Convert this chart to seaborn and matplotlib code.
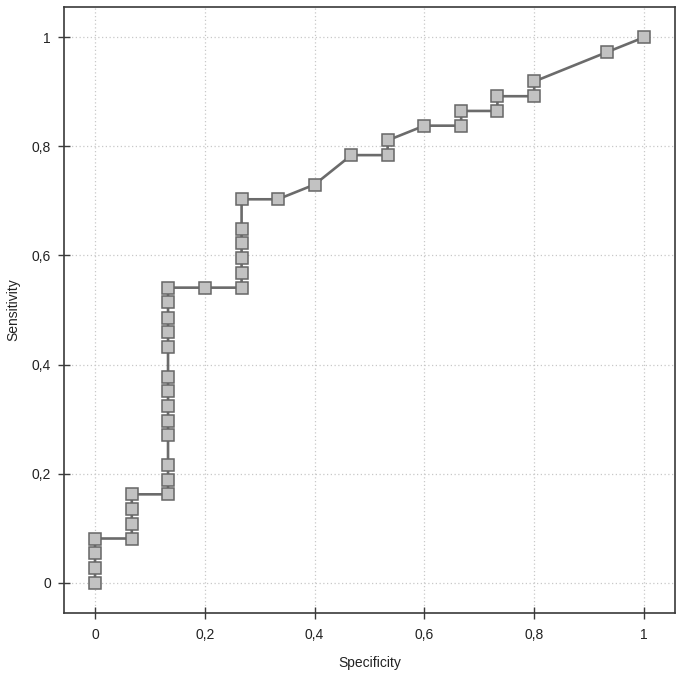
import matplotlib
matplotlib.use("Agg")
import matplotlib.pyplot as plt
from matplotlib.ticker import FuncFormatter, FixedLocator
import seaborn as sns
import pandas as pd

# ROC-curve points (in plotting order)
specificity = [0.0, 0.0, 0.0, 0.0,
               0.067, 0.067, 0.067, 0.067,
               0.133, 0.133, 0.133, 0.133, 0.133, 0.133, 0.133, 0.133,
               0.133, 0.133, 0.133, 0.133, 0.133,
               0.2,
               0.267, 0.267, 0.267, 0.267, 0.267, 0.267,
               0.333, 0.4, 0.467,
               0.533, 0.533, 0.6,
               0.667, 0.667, 0.733, 0.733, 0.8, 0.8,
               0.933, 1.0]
sensitivity = [0.0, 0.027, 0.054, 0.081,
               0.081, 0.108, 0.135, 0.162,
               0.162, 0.189, 0.216, 0.270, 0.297, 0.324, 0.351, 0.378,
               0.432, 0.459, 0.486, 0.514, 0.541,
               0.541,
               0.541, 0.568, 0.595, 0.622, 0.649, 0.703,
               0.703, 0.730, 0.784,
               0.784, 0.811, 0.838,
               0.838, 0.865, 0.865, 0.892, 0.892, 0.919,
               0.973, 1.0]
tick_values = [0, 0.2, 0.4, 0.6, 0.8, 1]
x_title = "Specificity"
y_title = "Sensitivity"

df = pd.DataFrame({"Specificity": specificity, "Sensitivity": sensitivity})

sns.set_style("white")
plt.rcParams["font.family"] = ["Liberation Sans", "DejaVu Sans"]

fig = plt.figure(figsize=(6.84, 6.78), dpi=100)
ax = fig.add_axes([64 / 684, 1 - 613 / 678, 611 / 684, 606 / 678])

line_col = "#6b6b6b"
sns.lineplot(data=df, x="Specificity", y="Sensitivity", sort=False,
             estimator=None, ax=ax, color=line_col, linewidth=1.9,
             marker="s", markersize=8.8, markerfacecolor="#c2c2c2",
             markeredgecolor="#666666", markeredgewidth=1.1)

ax.set_xlim(-0.0565, 1.0565)
ax.set_ylim(-0.0556, 1.0556)
ax.xaxis.set_major_locator(FixedLocator(tick_values))
ax.yaxis.set_major_locator(FixedLocator(tick_values))
fmt = FuncFormatter(lambda v, p: f"{v:g}".replace(".", ","))
ax.xaxis.set_major_formatter(fmt)
ax.yaxis.set_major_formatter(fmt)

ax.grid(True, color="#c8c8c8", linestyle=(0, (1, 2)), linewidth=0.9)
ax.set_axisbelow(True)

for s in ax.spines.values():
    s.set_visible(True)
    s.set_color("#3a3a3a")
    s.set_linewidth(1.2)

ax.tick_params(axis="both", direction="inout", length=9, width=1.0,
               color="#3a3a3a", labelsize=10, labelcolor="#222222", pad=6)
ax.tick_params(axis="x", bottom=True, pad=6.5)
ax.tick_params(axis="y", left=True, pad=5)

ax.set_xlabel(x_title, fontsize=10, color="#222222", labelpad=10)
ax.set_ylabel(y_title, fontsize=10, color="#222222", labelpad=8)

fig.savefig("out.png", dpi=100)
